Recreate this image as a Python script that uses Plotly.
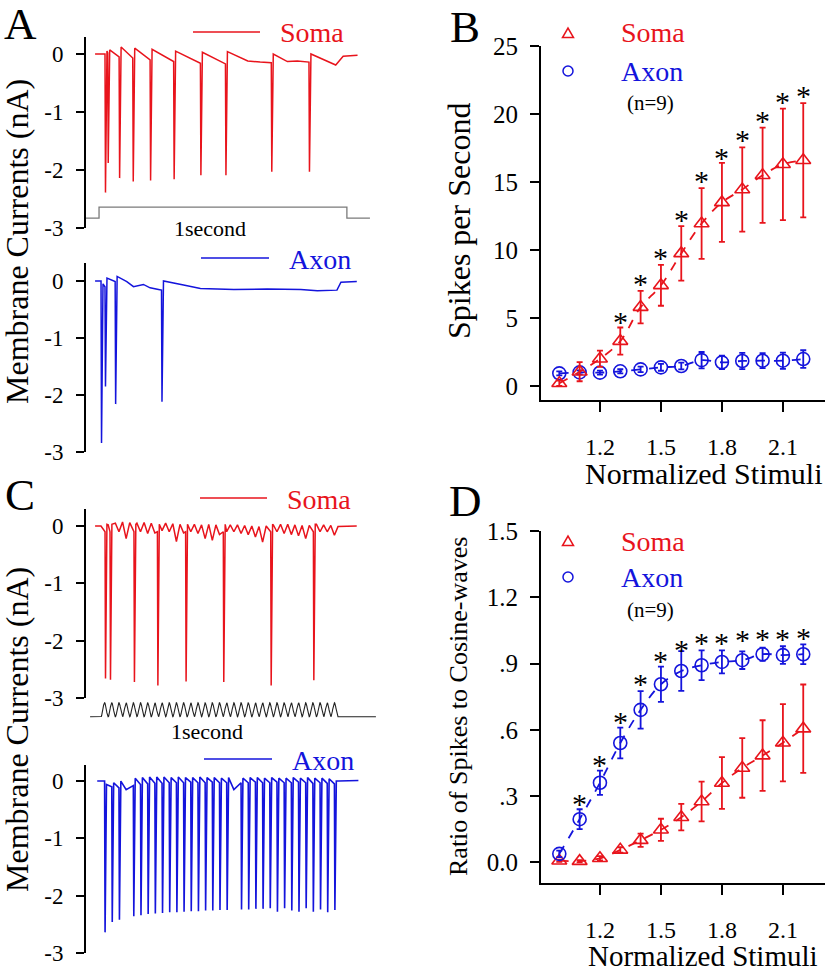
import numpy as np
import plotly.graph_objects as go

W, H = 834, 973
RED = '#e8141c'
BLUE = '#1414dc'
FONT = 'Liberation Serif'

# ---------------- panel A (step stimulus, 1 s), time in s, current in nA
soma_a_spike_t = [0.024, 0.035, 0.081, 0.136, 0.206, 0.301, 0.409, 0.510, 0.695, 0.847]
soma_a_spike_min = [-2.39, -1.88, -2.14, -2.20, -2.18, -2.16, -2.09, -2.09, -2.03, -2.03]
soma_a_pre = [0.0, 0.02, -0.05, -0.07, -0.10, -0.13, -0.16, -0.17, -0.15, -0.14]
soma_a_post = [0.05, 0.07, 0.12, 0.10, 0.08, 0.05, 0.03, 0.04, 0.00, 0.00]
soma_a_base_t = [-0.016, 0.60, 0.65, 0.76, 0.80, 0.955, 0.985, 1.043]
soma_a_base_v = [0.0, -0.12, -0.14, -0.13, -0.12, -0.19, -0.04, -0.02]

axon_a_spike_t = [0.008, 0.024, 0.065, 0.252]
axon_a_spike_min = [-2.84, -1.85, -2.16, -2.12]
axon_a_pre = [0.0, -0.10, -0.01, -0.16]
axon_a_post = [-0.05, 0.05, 0.08, 0.0]
axon_a_base_t = [-0.016, 0.112, 0.139, 0.179, 0.206, 0.240, 0.341, 0.409, 0.544,
                 0.679, 0.814, 0.881, 0.960, 0.976, 1.040]
axon_a_base_v = [0.0, -0.01, -0.10, -0.06, -0.12, -0.15, -0.07, -0.13, -0.15,
                 -0.14, -0.15, -0.17, -0.16, -0.02, -0.01]

step_t = [-0.053, 0.0, 0.0, 1.0, 1.0, 1.093]
step_v = [-2.83, -2.83, -2.64, -2.64, -2.83, -2.83]

# ---------------- panel C (cosine-wave stimulus, 33 cycles in 1 s)
n_cycles = 33
soma_c_spike_t = [0.017, 0.038, 0.139, 0.238, 0.357, 0.516, 0.716, 0.896]
soma_c_spike_min = [-2.66, -2.68, -2.72, -2.78, -2.71, -2.72, -2.78, -2.69]
soma_c_dip = [-0.10, -0.12, -0.10, -0.22, -0.10, -0.10, -0.13, -0.12, -0.08, -0.10, -0.27,
              -0.12, -0.10, -0.13, -0.22, -0.25, -0.15, -0.10, -0.10, -0.13, -0.15, -0.19,
              -0.28, -0.12, -0.10, -0.13, -0.15, -0.17, -0.22, -0.12, -0.10, -0.10, -0.16]
soma_c_top = [0.0, 0.02, 0.05, 0.07, 0.06, 0.05, 0.06, 0.05, 0.04, 0.05, 0.04, 0.03,
              0.04, 0.03, 0.02, 0.03, 0.02, 0.03, 0.02, 0.02, 0.01, 0.0, -0.01, 0.0,
              0.02, 0.03, 0.03, 0.02, 0.01, 0.01, 0.03, 0.02, 0.01, -0.01]

axon_c_min = [-2.64, -2.46, -2.42, None, -2.36, -2.34, -2.32, -2.31, -2.30, -2.29, -2.29,
              -2.28, -2.27, -2.27, -2.26, -2.26, -2.25, -2.25, None, -2.24, -2.24, -2.23,
              -2.23, -2.22, -2.28, -2.22, -2.26, -2.28, -2.22, -2.28, -2.24, -2.29, -2.25]
axon_c_pre = [0.0, -0.10, -0.12, -0.10, -0.08, -0.06, -0.05, -0.04, -0.04, -0.03, -0.03,
              -0.03, -0.02, -0.03, -0.03, -0.02, -0.03, -0.03, -0.02, -0.03, -0.03, -0.02,
              -0.03, -0.03, -0.02, -0.03, -0.03, -0.02, -0.03, -0.04, -0.03, -0.04, -0.05]
axon_c_post = [-0.06, -0.03, 0.0, 0.03, 0.05, 0.06, 0.07, 0.07, 0.07, 0.06, 0.07, 0.06,
               0.06, 0.07, 0.06, 0.06, 0.05, 0.06, 0.06, 0.05, 0.06, 0.06, 0.05, 0.06,
               0.05, 0.05, 0.06, 0.05, 0.06, 0.05, 0.05, 0.04, 0.0]

# ---------------- panels B and D
stim = [1.0, 1.1, 1.2, 1.3, 1.4, 1.5, 1.6, 1.7, 1.8, 1.9, 2.0, 2.1, 2.2]
soma_rate = [0.2, 1.05, 2.0, 3.3, 5.8, 7.4, 9.75, 11.95, 13.5, 14.45, 15.5, 16.3, 16.6]
soma_rate_err = [0.2, 0.7, 0.6, 1.0, 1.2, 1.5, 2.0, 2.6, 2.9, 3.1, 3.5, 4.1, 4.2]
axon_rate = [0.93, 1.0, 0.98, 1.08, 1.22, 1.37, 1.47, 1.9, 1.74, 1.84, 1.86, 1.86, 1.98]
axon_rate_err = [0.15, 0.15, 0.15, 0.15, 0.2, 0.25, 0.25, 0.6, 0.5, 0.6, 0.55, 0.6, 0.65]
star_b_x = [1.3, 1.4, 1.5, 1.6, 1.7, 1.8, 1.9, 2.0, 2.1, 2.2]
star_b_y = [5.1, 7.9, 9.8, 12.6, 15.5, 17.2, 18.5, 19.9, 21.3, 21.7]

soma_ratio = [0.007, 0.005, 0.018, 0.056, 0.10, 0.147, 0.204, 0.275, 0.359, 0.427, 0.483, 0.541, 0.605]
soma_ratio_err = [0.005, 0.005, 0.01, 0.012, 0.03, 0.05, 0.06, 0.09, 0.117, 0.135, 0.16, 0.175, 0.2]
axon_ratio = [0.038, 0.195, 0.36, 0.54, 0.69, 0.806, 0.866, 0.892, 0.907, 0.915, 0.942, 0.938, 0.942]
axon_ratio_err = [0.015, 0.045, 0.055, 0.07, 0.085, 0.08, 0.09, 0.067, 0.052, 0.04, 0.03, 0.04, 0.045]
star_d_x = [1.1, 1.2, 1.3, 1.4, 1.5, 1.6, 1.7, 1.8, 1.9, 2.0, 2.1, 2.2]
star_d_y = [0.29, 0.465, 0.662, 0.83, 0.935, 0.988, 1.018, 1.018, 1.03, 1.038, 1.038, 1.04]


def px(x):
    return x / W


def py(y):
    return 1 - y / H


def build_trace(base_t, base_v, spike_t, spike_pre, spike_min, spike_post):
    pts = list(zip(base_t, base_v))
    for t, pre, mn, post in zip(spike_t, spike_pre, spike_min, spike_post):
        pts += [(t, pre), (t + 0.002, mn), (t + 0.008, post)]
    pts.sort()
    t, v = zip(*pts)
    return list(t), list(v)


def near_spike(t, spikes):
    return any(s - 0.004 <= t <= s + 0.011 for s in spikes)


centers = [(i + 0.5) / n_cycles for i in range(n_cycles)]
bounds = [i / n_cycles for i in range(n_cycles + 1)]

# soma C: small dip on each cycle, spikes on a few
sc_t = [-0.025] + [b for b in bounds if not near_spike(b, soma_c_spike_t)] + \
       [c for c in centers if not near_spike(c, soma_c_spike_t)] + [1.079]
sc_v = [0.0] + [v for b, v in zip(bounds, soma_c_top) if not near_spike(b, soma_c_spike_t)] + \
       [v for c, v in zip(centers, soma_c_dip) if not near_spike(c, soma_c_spike_t)] + [0.0]
soma_c_t, soma_c_v = build_trace(sc_t, sc_v, soma_c_spike_t, [-0.1] * 8, soma_c_spike_min, [0.03] * 8)

# axon C: a spike on almost every cycle
ac_spk = [i for i, m in enumerate(axon_c_min) if m is not None]
ac_base_t = [-0.016, 1.003, 1.086] + [centers[i] for i, m in enumerate(axon_c_min) if m is None]
ac_base_v = [0.0, 0.0, 0.01] + [-0.15 for m in axon_c_min if m is None]
axon_c_t, axon_c_v = build_trace(ac_base_t, ac_base_v, [centers[i] for i in ac_spk],
                                 [axon_c_pre[i] for i in ac_spk], [axon_c_min[i] for i in ac_spk],
                                 [axon_c_post[i] for i in ac_spk])

soma_a_t, soma_a_v = build_trace(soma_a_base_t, soma_a_base_v, soma_a_spike_t, soma_a_pre,
                                 soma_a_spike_min, soma_a_post)
axon_a_t, axon_a_v = build_trace(axon_a_base_t, axon_a_base_v, axon_a_spike_t, axon_a_pre,
                                 axon_a_spike_min, axon_a_post)

# cosine-wave stimulus drawing
sw_t = np.linspace(0, 1, 800)
sw_v = 0.6 * (1 - np.cos(2 * np.pi * n_cycles * sw_t))
cos_t = [-0.046] + list(sw_t) + [1.16]
cos_v = [0.0] + list(sw_v) + [0.0]

fig = go.Figure()
fig.add_trace(go.Scatter(x=step_t, y=step_v, mode='lines', line=dict(color='#7a7a7a', width=1.3),
                         xaxis='x', yaxis='y'))
fig.add_trace(go.Scatter(x=soma_a_t, y=soma_a_v, mode='lines', line=dict(color=RED, width=1.5),
                         xaxis='x', yaxis='y'))
fig.add_trace(go.Scatter(x=axon_a_t, y=axon_a_v, mode='lines', line=dict(color=BLUE, width=1.5),
                         xaxis='x2', yaxis='y2'))
fig.add_trace(go.Scatter(x=soma_c_t, y=soma_c_v, mode='lines', line=dict(color=RED, width=1.5),
                         xaxis='x3', yaxis='y3'))
fig.add_trace(go.Scatter(x=axon_c_t, y=axon_c_v, mode='lines', line=dict(color=BLUE, width=1.6),
                         xaxis='x4', yaxis='y4'))
fig.add_trace(go.Scatter(x=cos_t, y=cos_v, mode='lines', line=dict(color='#222222', width=1.1),
                         xaxis='x5', yaxis='y5'))


def mean_trace(y, err, color, symbol, xa, ya):
    return go.Scatter(x=stim, y=y, mode='lines+markers', xaxis=xa, yaxis=ya,
                      line=dict(color=color, width=1.8, dash='dash', shape='spline'),
                      marker=dict(symbol=symbol, size=13, color=color, line=dict(width=1.6, color=color)),
                      error_y=dict(type='data', array=err, color=color, thickness=1.8, width=3))


fig.add_trace(mean_trace(axon_rate, axon_rate_err, BLUE, 'circle-open', 'x6', 'y6'))
fig.add_trace(mean_trace(soma_rate, soma_rate_err, RED, 'triangle-up-open', 'x6', 'y6'))
fig.add_trace(mean_trace(soma_ratio, soma_ratio_err, RED, 'triangle-up-open', 'x7', 'y7'))
fig.add_trace(mean_trace(axon_ratio, axon_ratio_err, BLUE, 'circle-open', 'x7', 'y7'))

tfont = dict(family=FONT, size=23, color='black')
bfont = dict(family=FONT, size=25, color='black')
xfont = dict(family=FONT, size=24, color='black')


def trace_y(top_px, bot_px, top_val, anchor):
    return dict(domain=[py(bot_px), py(top_px)], range=[-3, top_val], anchor=anchor,
                showline=True, linecolor='black', linewidth=2, ticks='outside', ticklen=8,
                tickwidth=2, tickcolor='black', tickvals=[-3, -2, -1, 0],
                ticktext=['-3', '-2', '-1', '0'], tickfont=tfont, ticklabelstandoff=8,
                showgrid=False, zeroline=False, automargin=False)


def hidden_x(rng):
    return dict(domain=[px(86), px(380)], range=rng, visible=False, showgrid=False,
                zeroline=False, automargin=False)


a_rng = [-0.0526, 1.1336]
c_rng = [-0.0633, 1.1772]

layout = dict(
    template='none',
    width=W, height=H, margin=dict(l=0, r=0, t=0, b=0, pad=0, autoexpand=False), showlegend=False,
    paper_bgcolor='white', plot_bgcolor='white',
    xaxis=hidden_x(a_rng), xaxis2=hidden_x(a_rng), xaxis3=hidden_x(c_rng),
    xaxis4=hidden_x(c_rng), xaxis5=hidden_x(c_rng),
    yaxis=trace_y(36.6, 228, 0.3, 'x'),
    yaxis2=trace_y(263, 452, 0.316, 'x2'),
    yaxis3=trace_y(509, 698, 0.297, 'x3'),
    yaxis4=trace_y(765, 953, 0.28, 'x4'),
    yaxis5=dict(domain=[py(720), py(700)], range=[-0.284, 1.44], anchor='x5', visible=False,
                automargin=False),
)

for n, (bot, top, rng, tv, tt) in {
    6: (400, 46, [-1.03, 25], [0, 5, 10, 15, 20, 25], ['0', '5', '10', '15', '20', '25']),
    7: (883, 531, [-0.094, 1.5], [0, 0.3, 0.6, 0.9, 1.2, 1.5], ['0.0', '.3', '.6', '.9', '1.2', '1.5']),
}.items():
    layout['xaxis%d' % n] = dict(domain=[px(541), px(825)], range=[0.91, 2.307], anchor='y%d' % n,
                                 showline=True, linecolor='black', linewidth=2, ticks='outside',
                                 ticklen=10, tickwidth=2, tickcolor='black',
                                 tickvals=[1.2, 1.5, 1.8, 2.1], ticktext=['1.2', '1.5', '1.8', '2.1'],
                                 tickfont=xfont, ticklabelstandoff=14, showgrid=False, zeroline=False,
                                 automargin=False)
    layout['yaxis%d' % n] = dict(domain=[py(bot), py(top)], range=rng, anchor='x%d' % n,
                                 showline=True, linecolor='black', linewidth=2, ticks='outside',
                                 ticklen=9, tickwidth=2, tickcolor='black', tickvals=tv, ticktext=tt,
                                 tickfont=bfont, ticklabelstandoff=7, showgrid=False, zeroline=False,
                                 automargin=False)

fig.update_layout(**layout)

ann = []


def text(x, y, s, size, color='black', xanchor='center', angle=0):
    ann.append(dict(x=px(x), y=py(y), xref='paper', yref='paper', text=s, showarrow=False,
                    xanchor=xanchor, yanchor='middle', textangle=angle,
                    font=dict(family=FONT, size=size, color=color)))


for letter, x, y in [('A', 20, 24), ('B', 465, 27), ('C', 20, 495), ('D', 465, 501)]:
    text(x, y, letter, 45)

text(17, 242, 'Membrane Currents (nA)', 32, angle=-90)
text(17, 730, 'Membrane Currents (nA)', 32, angle=-90)
text(459, 221, 'Spikes per Second', 32, angle=-90)
text(458, 707, 'Ratio of Spikes to Cosine-waves', 26, angle=-90)
text(703, 473, 'Normalized Stimuli', 30)
text(703, 956, 'Normalized Stimuli', 29)
text(210, 228, '1second', 22)
text(207, 731, '1second', 22)

# trace legends
shapes = []
for x0, x1, y, label, color in [(193, 260, 32, 'Soma', RED), (201, 269, 258, 'Axon', BLUE),
                                (200, 267, 498, 'Soma', RED), (204, 272, 759, 'Axon', BLUE)]:
    shapes.append(dict(type='line', xref='paper', yref='paper', x0=px(x0), x1=px(x1), y0=py(y), y1=py(y),
                       line=dict(color=color, width=1.5)))
    text(x1 + 18, y + 1, label, 28, color, 'left')

# B / D legends
for ys, ya, yn in [(33, 71, 103), (541, 577, 610)]:
    shapes.append(dict(type='path', xref='paper', yref='paper',
                       path='M %f %f L %f %f L %f %f Z' % (px(562.5), py(ys + 4.5), px(573.5), py(ys + 4.5),
                                                          px(568), py(ys - 5)),
                       line=dict(color=RED, width=1.5)))
    shapes.append(dict(type='circle', xref='paper', yref='paper', x0=px(563), x1=px(573),
                       y0=py(ya + 5), y1=py(ya - 5), line=dict(color=BLUE, width=1.5)))
    text(619, ys, 'Soma', 28, RED, 'left')
    text(619, ya, 'Axon', 28, BLUE, 'left')
    text(650, yn, '(n=9)', 21)

for xs, ys, axn in [(star_b_x, star_b_y, 6), (star_d_x, star_d_y, 7)]:
    for x, y in zip(xs, ys):
        ann.append(dict(x=x, y=y, xref='x%d' % axn, yref='y%d' % axn, text='*', showarrow=False,
                        yshift=-5, font=dict(family=FONT, size=30, color='black')))

fig.update_layout(annotations=ann, shapes=shapes)
fig.write_html('out.html', config={'displayModeBar': False},
               post_script="document.body.style.margin = '0';")
